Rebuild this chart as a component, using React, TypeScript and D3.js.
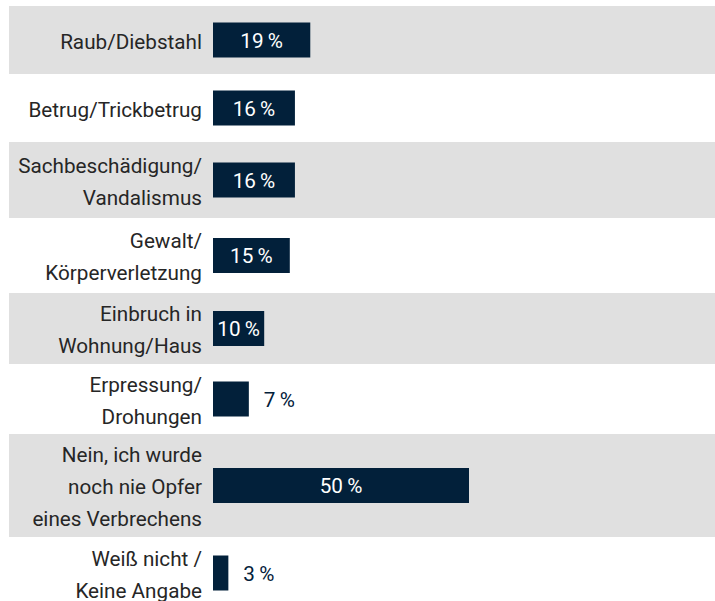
import React from "react";
import * as d3 from "d3";

// ---- data ----
const categories: string[][] = [
  ["Raub/Diebstahl"],
  ["Betrug/Trickbetrug"],
  ["Sachbeschädigung/", "Vandalismus"],
  ["Gewalt/", "Körperverletzung"],
  ["Einbruch in", "Wohnung/Haus"],
  ["Erpressung/", "Drohungen"],
  ["Nein, ich wurde", "noch nie Opfer", "eines Verbrechens"],
  ["Weiß nicht /", "Keine Angabe"],
];
const values: number[] = [19, 16, 16, 15, 10, 7, 50, 3];
const shaded: boolean[] = [true, false, true, false, true, false, true, false];

// ---- layout ----
const W = 715;
const H = 601;
const TOP = 6;
const rowHeights = [68, 68, 76, 75, 71, 70, 103, 72];
const BAR_H = 35;
const LINE_H = 32;
const LABEL_X = 202;
const FONT = "Roboto, 'Open Sans', sans-serif";
const FS = 20.7;
const NAVY = "#02203a";
const BAND = "#e0e0e0";

export default function App() {
  const x = d3.scaleLinear().domain([0, 50]).range([213, 469]);
  const starts = rowHeights.map((_, i) => TOP + d3.sum(rowHeights.slice(0, i)));

  return (
    <svg
      width={W}
      height={H}
      style={{ position: "absolute", left: 0, top: 0, background: "#fff" }}
    >
      {values.map((v, i) => {
        const y0 = starts[i];
        const h = rowHeights[i];
        const cy = y0 + h / 2;
        const lines = categories[i];
        const inside = v >= 10;
        const barW = x(v) - x(0);
        return (
          <g key={i}>
            {shaded[i] && (
              <rect x={9} y={y0} width={W - 9} height={h} fill={BAND} />
            )}
            {lines.map((ln, j) => (
              <text
                key={j}
                x={LABEL_X}
                y={cy + (j - (lines.length - 1) / 2) * LINE_H + 8.5}
                textAnchor="end"
                fontFamily={FONT}
                fontSize={FS}
                fill="#262626"
              >
                {ln}
              </text>
            ))}
            <rect x={x(0)} y={cy - BAR_H / 2} width={barW} height={BAR_H} fill={NAVY} />
            <text
              x={inside ? x(0) + barW / 2 : x(v) + 15}
              y={cy + 7.5}
              textAnchor={inside ? "middle" : "start"}
              fontFamily={FONT}
              fontSize={FS}
              fill={inside ? "#ffffff" : NAVY}
            >
              {`${v}\u2009%`}
            </text>
          </g>
        );
      })}
    </svg>
  );
}
